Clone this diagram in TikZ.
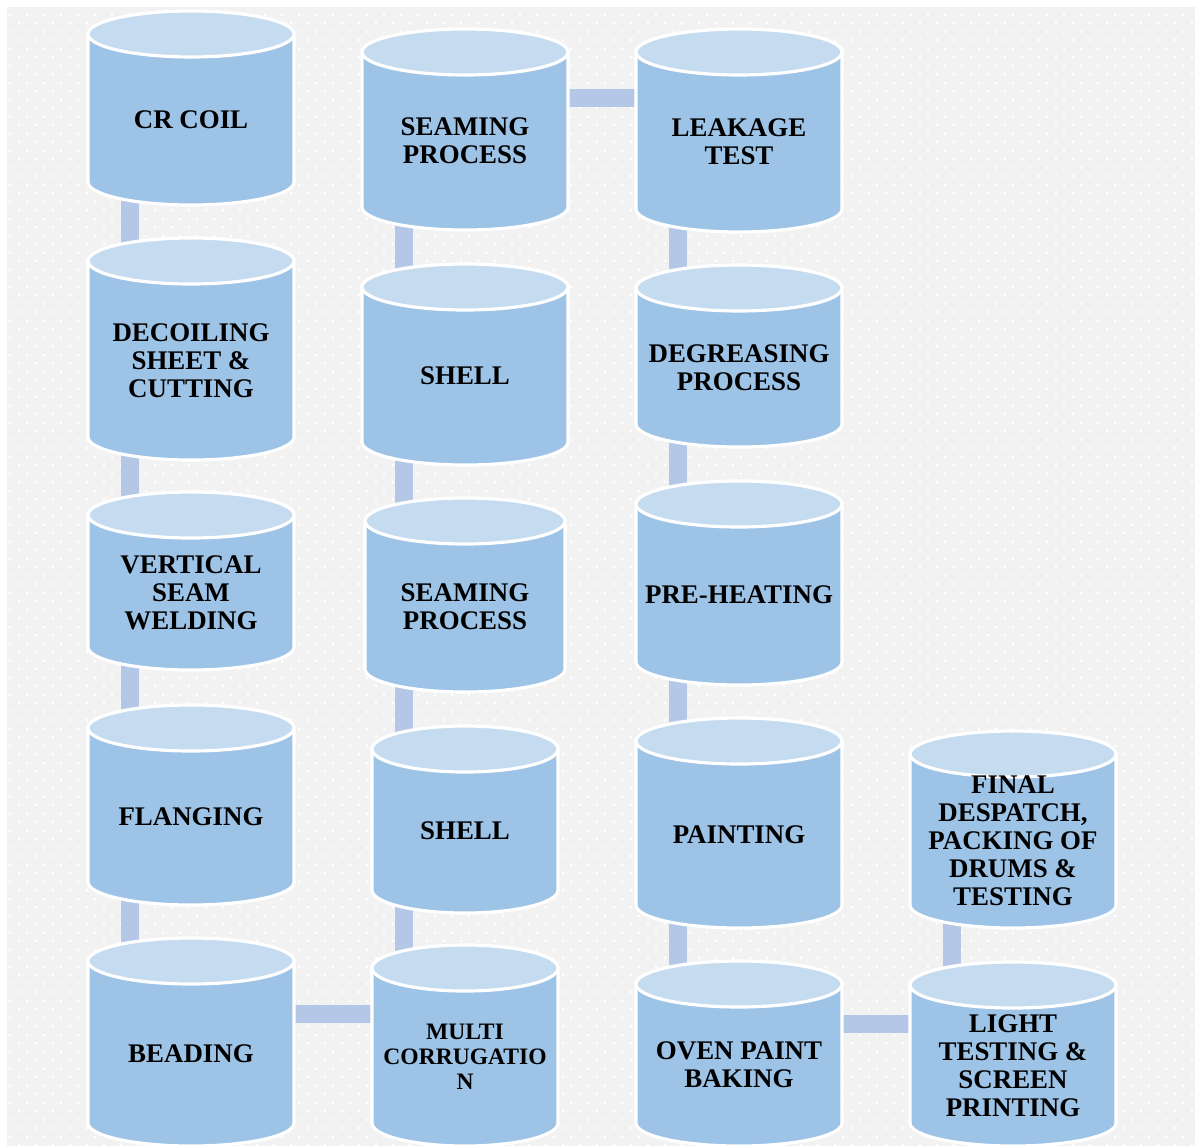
\documentclass[tikz,border=0pt]{standalone}
\usepackage{fontspec}
\setmainfont{Liberation Serif}
\usepackage{tikz}
\usetikzlibrary{%
	calc,%
	patterns
}

\definecolor{drumblue}{HTML}{9DC3E6}
\definecolor{lidblue}{HTML}{C5DCF0}
\definecolor{linkblue}{HTML}{B4C7E7}
\definecolor{paper}{HTML}{F2F2F2}

\pgfdeclarelayer{paperlayer}
\pgfdeclarelayer{linklayer}
\pgfsetlayers{paperlayer,linklayer,main}

% white dots on the grey paper
\pgfdeclarepatternformonly{paperdots}{\pgfqpoint{0pt}{0pt}}{\pgfqpoint{4.84pt}{4.84pt}}{\pgfqpoint{4.84pt}{4.84pt}}{%
	\pgfpathrectangle{\pgfqpoint{0.3pt}{0.3pt}}{\pgfqpoint{0.65pt}{0.65pt}}%
	\pgfpathrectangle{\pgfqpoint{2.72pt}{2.72pt}}{\pgfqpoint{0.65pt}{0.65pt}}%
	\pgfusepath{fill}%
}

\tikzset{
	drumbody/.style={fill=drumblue,draw=white,line width=0.9pt},
	drumlid/.style={fill=lidblue,draw=white,line width=0.9pt},
	drumtext/.style={font=\bfseries\fontsize{7.65}{7.96}\selectfont,align=center,inner sep=0pt},
	smalltext/.style={font=\bfseries\fontsize{6.7}{7.1}\selectfont},
	link/.style={linkblue,line width=0.18cm}
}

% #1 text style, #2 name, #3 centre x, #4 x radius, #5 lid y, #6 bottom y, #7 text
\newcommand{\drum}[7][]{%
	\filldraw[drumbody] ({#3-#4},-#5) -- ({#3-#4},-#6)
		arc[start angle=180,end angle=360,x radius=#4,y radius=23] -- ({#3+#4},-#5) -- cycle;
	\filldraw[drumlid] (#3,-#5) ellipse[x radius=#4,y radius=23];
	\node[drumtext,#1] (#2) at (#3,{-(#5+#6+23)/2}) {#7};
}

\begin{document}
\begin{tikzpicture}[x=0.01cm,y=0.01cm]
	\useasboundingbox (0,0) rectangle (1195,-1146);
	
	% Paper
	\begin{pgfonlayer}{paperlayer}
		\fill[white] (0,0) rectangle (1195,-1146);
		\fill[paper] (7,-7) rectangle (1195,-1146);
		\fill[pattern=paperdots,pattern color=white] (7,-7) rectangle (1195,-1146);
	\end{pgfonlayer}
	
	% First column
	\drum{coil}{191}{103}{34}{182}{CR COIL}
	\drum{decoil}{191}{103}{261}{437}{DECOILING\\SHEET \&\\CUTTING}
	\drum{vweld}{191}{103}{515}{647}{VERTICAL\\SEAM\\WELDING}
	\drum{flange}{191}{103}{728}{882}{FLANGING}
	\drum{bead}{191}{103}{961}{1123}{BEADING}
	
	% Second column
	\drum{seamA}{465}{103}{52}{207}{SEAMING\\PROCESS}
	\drum{shellA}{465}{103}{287}{442}{SHELL}
	\drum{seamB}{465}{100}{521}{669}{SEAMING\\PROCESS}
	\drum{shellB}{465}{93}{749}{890}{SHELL}
	\drum[smalltext]{multi}{465}{93}{968}{1123}{MULTI\\CORRUGATIO\\N}
	
	% Third column
	\drum{leak}{739}{103}{52}{209}{LEAKAGE\\TEST}
	\drum{degrease}{739}{103}{288}{424}{DEGREASING\\PROCESS}
	\drum{preheat}{739}{103}{504}{662}{PRE-HEATING}
	\drum{paint}{739}{103}{741}{905}{PAINTING}
	\drum{oven}{739}{103}{984}{1123}{OVEN PAINT\\BAKING}
	
	% Fourth column
	\drum{final}{1013}{103}{754}{905}{FINAL\\DESPATCH,\\PACKING OF\\DRUMS \&\\TESTING}
	\drum{light}{1013}{103}{985}{1123}{LIGHT\\TESTING \&\\SCREEN\\PRINTING}
	
	% Links behind the drums
	\coordinate (seamlink) at ($(seamA)+(0,43)$);
	\coordinate (beadlink) at ($(bead)+(0,40)$);
	\coordinate (ovenlink) at ($(oven)+(0,41)$);
	\begin{pgfonlayer}{linklayer}
		\draw[link] ($(coil)+(-61,0)$) -- ($(decoil)+(-61,0)$);
		\draw[link] ($(decoil)+(-61,0)$) -- ($(vweld)+(-61,0)$);
		\draw[link] ($(vweld)+(-61,0)$) -- ($(flange)+(-61,0)$);
		\draw[link] ($(flange)+(-61,0)$) -- ($(bead)+(-61,0)$);
		\draw[link] (beadlink) -- (beadlink -| multi);
		\draw[link] ($(multi)+(-61,0)$) -- ($(shellB)+(-61,0)$);
		\draw[link] ($(shellB)+(-61,0)$) -- ($(seamB)+(-61,0)$);
		\draw[link] ($(seamB)+(-61,0)$) -- ($(shellA)+(-61,0)$);
		\draw[link] ($(shellA)+(-61,0)$) -- ($(seamA)+(-61,0)$);
		\draw[link] (seamlink) -- (seamlink -| leak);
		\draw[link] ($(leak)+(-61,0)$) -- ($(degrease)+(-61,0)$);
		\draw[link] ($(degrease)+(-61,0)$) -- ($(preheat)+(-61,0)$);
		\draw[link] ($(preheat)+(-61,0)$) -- ($(paint)+(-61,0)$);
		\draw[link] ($(paint)+(-61,0)$) -- ($(oven)+(-61,0)$);
		\draw[link] (ovenlink) -- (ovenlink -| light);
		\draw[link] ($(light)+(-61,0)$) -- ($(final)+(-61,0)$);
	\end{pgfonlayer}
\end{tikzpicture}
\end{document}
